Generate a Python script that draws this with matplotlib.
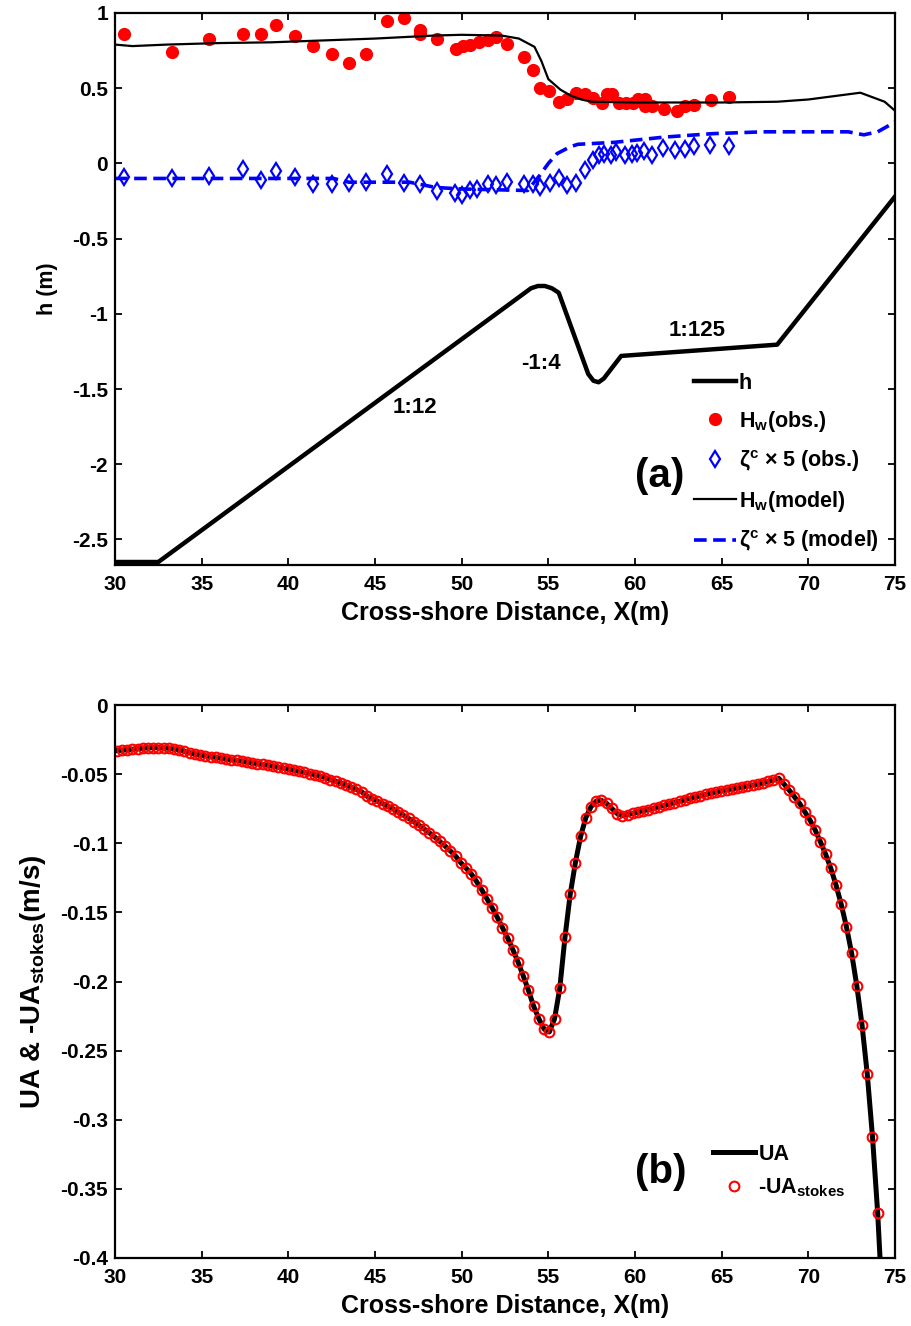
import numpy as np
import matplotlib
matplotlib.use('Agg')
import matplotlib.pyplot as plt
from matplotlib.ticker import FuncFormatter

plt.rcParams['font.family'] = ['Liberation Sans', 'DejaVu Sans']
plt.rcParams['font.weight'] = 'bold'
plt.rcParams['axes.unicode_minus'] = False
plt.rcParams['mathtext.fontset'] = 'custom'
plt.rcParams['mathtext.rm'] = 'Liberation Sans:bold'
plt.rcParams['mathtext.it'] = 'Liberation Sans:bold'
plt.rcParams['mathtext.bf'] = 'Liberation Sans:bold'
plt.rcParams['mathtext.default'] = 'rm'

# ---- panel (a) ----
# bathymetry
xh = [30, 32.5, 54.0, 54.4, 54.8, 55.2, 55.6, 57.3, 57.6, 57.9, 58.2, 59.2, 68.2, 75]
hb = [-2.65, -2.65, -0.83, -0.815, -0.815, -0.83, -0.86, -1.40, -1.445, -1.455, -1.43, -1.28, -1.205, -0.22]

# wave height, model
xhw = [30, 31, 33, 36, 39, 42.6, 45, 48.4, 50, 52.3, 53.3, 54.2, 54.6, 55.0, 55.4, 55.7,
       56.3, 56.9, 57.5, 60, 65, 68.2, 70, 72, 73, 73.7, 74.4, 75]
hw_mod = [0.79, 0.78, 0.79, 0.80, 0.805, 0.82, 0.83, 0.85, 0.855, 0.85, 0.83, 0.775, 0.68, 0.56,
          0.52, 0.49, 0.45, 0.425, 0.41, 0.405, 0.405, 0.41, 0.425, 0.455, 0.47, 0.44, 0.41, 0.35]

# wave height, observed
xhw_obs = [30.5, 33.3, 35.4, 37.4, 38.4, 39.3, 40.4, 41.4, 42.5, 43.5, 44.5, 45.7, 46.7, 47.6,
           47.6, 48.6, 49.7, 50.1, 50.5, 51.0, 51.5, 52.0, 52.6, 53.6, 54.1, 54.5, 55.05, 55.6,
           56.1, 56.6, 57.1, 57.6, 58.1, 58.4, 58.7, 59.1, 59.5, 59.9, 60.2, 60.6, 60.6, 61.0,
           61.7, 62.4, 62.9, 63.4, 64.4, 65.4]
hw_obs = [0.86, 0.74, 0.83, 0.86, 0.86, 0.92, 0.845, 0.78, 0.73, 0.67, 0.73, 0.945, 0.97, 0.89,
          0.86, 0.83, 0.76, 0.78, 0.79, 0.81, 0.82, 0.84, 0.795, 0.71, 0.62, 0.50, 0.48, 0.41,
          0.425, 0.47, 0.46, 0.435, 0.40, 0.46, 0.46, 0.40, 0.40, 0.40, 0.425, 0.425, 0.38, 0.38,
          0.36, 0.35, 0.38, 0.39, 0.42, 0.44]

# setup x5, observed
xz_obs = [30.5, 33.3, 35.4, 37.4, 38.4, 39.3, 40.4, 41.4, 42.5, 43.5, 44.5, 45.7, 46.7, 47.6,
          48.6, 49.6, 50.0, 50.5, 50.9, 51.5, 52.0, 52.6, 53.6, 54.1, 54.5, 55.1, 55.6, 56.1,
          56.6, 57.1, 57.6, 57.9, 58.2, 58.6, 58.9, 59.4, 59.8, 60.1, 60.5, 61.0, 61.6, 62.3,
          62.9, 63.4, 64.3, 65.4]
z_obs = [-0.09, -0.10, -0.085, -0.035, -0.11, -0.05, -0.09, -0.135, -0.135, -0.13, -0.125, -0.07,
         -0.13, -0.135, -0.185, -0.20, -0.21, -0.18, -0.17, -0.135, -0.145, -0.125, -0.14, -0.14,
         -0.16, -0.13, -0.10, -0.145, -0.13, -0.047, 0.02, 0.053, 0.065, 0.053, 0.075, 0.053,
         0.065, 0.07, 0.082, 0.053, 0.105, 0.087, 0.095, 0.115, 0.12, 0.115]

# setup x5, model
xz = [30, 36, 42.6, 43.5, 47, 48.5, 50, 53.8, 54.5, 55.0, 55.5, 56.25, 56.7, 58.8, 61.7,
      64.5, 67.4, 72.3, 73.2, 74, 75]
z_mod = [-0.10, -0.10, -0.10, -0.125, -0.125, -0.16, -0.17, -0.18, -0.08, 0.0, 0.065, 0.11,
         0.127, 0.14, 0.175, 0.198, 0.21, 0.21, 0.19, 0.21, 0.275]

# ---- panel (b) ----
xb = np.linspace(30.1, 74.0, 147)
ua = [-0.0330, -0.0327, -0.0324, -0.0320, -0.0316, -0.0312, -0.0310, -0.0308, -0.0308, -0.0310,
      -0.0313, -0.0318, -0.0323, -0.0335, -0.0345, -0.0354, -0.0362, -0.0367, -0.0373, -0.0379,
      -0.0384, -0.0390, -0.0396, -0.0401, -0.0407, -0.0413, -0.0419, -0.0424, -0.0430, -0.0436,
      -0.0443, -0.0450, -0.0457, -0.0464, -0.0472, -0.0480, -0.0488, -0.0496, -0.0504, -0.0514,
      -0.0525, -0.0540, -0.0550, -0.0565, -0.0580, -0.0595, -0.0611, -0.0628, -0.0660, -0.0677,
      -0.0695, -0.0713, -0.0732, -0.0751, -0.0775, -0.0797, -0.0820, -0.0844, -0.0870, -0.0897,
      -0.0925, -0.0955, -0.0987, -0.1020, -0.1055, -0.1092, -0.1140, -0.1180, -0.1220, -0.1275,
      -0.1335, -0.1400, -0.1465, -0.1535, -0.1610, -0.1685, -0.1770, -0.1860, -0.1960, -0.2065,
      -0.2180, -0.2270, -0.2345, -0.2365, -0.2270, -0.2050, -0.1680, -0.1370, -0.1140, -0.0950,
      -0.0815, -0.0735, -0.0695, -0.0690, -0.0712, -0.0748, -0.0785, -0.0800, -0.0792, -0.0783,
      -0.0774, -0.0765, -0.0756, -0.0746, -0.0736, -0.0726, -0.0716, -0.0706, -0.0696, -0.0686,
      -0.0676, -0.0666, -0.0656, -0.0646, -0.0637, -0.0629, -0.0621, -0.0614, -0.0607, -0.0600,
      -0.0593, -0.0586, -0.0579, -0.0572, -0.0563, -0.0553, -0.0543, -0.0530, -0.0571, -0.0615,
      -0.0663, -0.0711, -0.0772, -0.0832, -0.0904, -0.0989, -0.1078, -0.1181, -0.1302, -0.1442,
      -0.1604, -0.1796, -0.2033, -0.2317, -0.2671, -0.3123, -0.3677]
ua_stokes = ua
ua_tail_x = [74.3]
ua_tail = [-0.44]

fig = plt.figure(figsize=(9.12, 13.26), dpi=100)
ax1 = fig.add_axes([0.1261, 0.5739, 0.8553, 0.4163])
ax2 = fig.add_axes([0.1261, 0.0513, 0.8553, 0.4170])

tfs = 15
for ax in (ax1, ax2):
    ax.tick_params(direction='in', top=True, right=True, length=5, width=1.3, labelsize=tfs)
    ax.tick_params(axis='x', pad=7)
    ax.tick_params(axis='y', pad=5)
    for s in ax.spines.values():
        s.set_linewidth(1.6)
    ax.set_xlim(30, 75)
    ax.set_xticks(range(30, 76, 5))
    ax.set_xlabel('Cross-shore Distance, X(m)', fontsize=18, fontweight='bold', labelpad=5)

ax1.plot(xh, hb, color='black', lw=3.2, label='h', solid_joinstyle='round')
ax1.plot(xhw_obs, hw_obs, 'o', color='red', ms=8.5, mec='red', label=r'H$_w$(obs.)')
ax1.plot(xz_obs, z_obs, 'd', color='blue', mfc='none', mec='blue', ms=8, mew=1.6,
         label=r'$\zeta^c$ × 5 (obs.)')
ax1.plot(xhw, hw_mod, color='black', lw=1.6, label=r'H$_w$(model)')
ax1.plot(xz, z_mod, color='blue', lw=2.6, dashes=(3.5, 1.8), label=r'$\zeta^c$ × 5 (model)')
ax1.set_ylim(-2.67, 1)
ax1.set_yticks([1, 0.5, 0, -0.5, -1, -1.5, -2, -2.5])
ax1.yaxis.set_major_formatter(FuncFormatter(lambda v, p: '%g' % v))
ax1.set_ylabel('h (m)', fontsize=15.5, fontweight='bold', labelpad=10)
ax1.text(47.3, -1.62, '1:12', fontsize=16, fontweight='bold', ha='center', va='center')
ax1.text(54.6, -1.33, '-1:4', fontsize=16, fontweight='bold', ha='center', va='center')
ax1.text(63.6, -1.11, '1:125', fontsize=16, fontweight='bold', ha='center', va='center')
ax1.text(61.4, -2.08, '(a)', fontsize=29, fontweight='bold', ha='center', va='center')
ax1.legend(loc='upper left', bbox_to_anchor=(0.742, 0.348), frameon=False, fontsize=15.5,
           handlelength=1.95, handletextpad=0.15, labelspacing=0.68, borderpad=0, borderaxespad=0)

ax2.plot(np.concatenate([xb, ua_tail_x]), np.concatenate([ua, ua_tail]), color='black', lw=3.6,
         label='UA')
ax2.plot(xb, ua_stokes, 'o', mfc='none', mec='red', ms=7, mew=1.5, label=r'-UA$_{stokes}$')
ax2.set_ylim(-0.4, 0)
ax2.set_yticks(np.arange(0, -0.41, -0.05))
ax2.yaxis.set_major_formatter(FuncFormatter(lambda v, p: '%g' % round(v, 2)))
ax2.set_ylabel(r'UA & -UA$_{stokes}$(m/s)', fontsize=20, fontweight='bold', labelpad=9)
ax2.text(61.5, -0.338, '(b)', fontsize=29, fontweight='bold', ha='center', va='center')
ax2.legend(loc='upper left', bbox_to_anchor=(0.767, 0.207), frameon=False, fontsize=15.5,
           handlelength=1.95, handletextpad=0.15, labelspacing=0.55, borderpad=0, borderaxespad=0)

fig.savefig('out.png', dpi=100)
